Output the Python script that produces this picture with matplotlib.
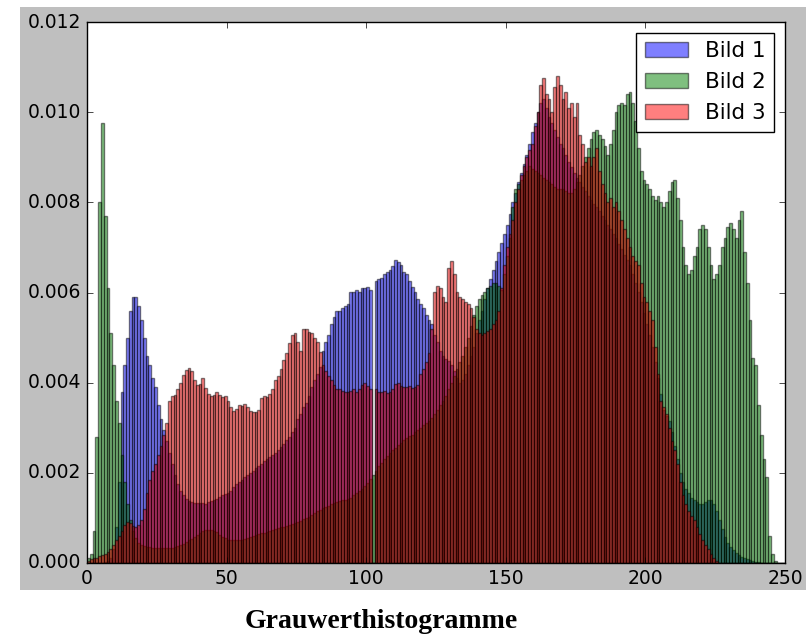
import matplotlib
matplotlib.use("Agg")
import matplotlib.pyplot as plt
import numpy as np
from matplotlib.patches import Rectangle

# grey-value histograms, one value per bin (0..255), in units of 1e-5
bild1 = [
    0, 0, 0, 0, 0, 1, 2, 5, 10, 30,
    80, 180, 380, 440, 500, 560, 590, 590, 570, 540,
    500, 460, 440, 410, 390, 350, 320, 295, 270, 245,
    220, 195, 175, 160, 150, 143, 138, 136, 134, 133,
    134, 133, 130, 135, 137, 140, 142, 146, 150, 152,
    155, 160, 168, 175, 180, 185, 190, 195, 200, 205,
    210, 215, 220, 226, 230, 235, 240, 245, 250, 258,
    265, 272, 280, 290, 300, 320, 330, 345, 355, 370,
    390, 405, 420, 435, 470, 490, 505, 530, 545, 560,
    560, 565, 570, 575, 600, 600, 605, 600, 610, 610,
    612, 605, 0, 625, 630, 632, 640, 645, 650, 658,
    672, 668, 660, 645, 640, 625, 612, 600, 585, 575,
    565, 550, 540, 530, 505, 490, 470, 460, 452, 447,
    440, 425, 410, 400, 405, 420, 440, 460, 480, 510,
    540, 560, 585, 610, 630, 650, 670, 690, 710, 730,
    750, 775, 800, 820, 845, 865, 885, 905, 930, 955,
    975, 1000, 1020, 1030, 1010, 990, 975, 960, 945, 930,
    920, 905, 890, 878, 865, 855, 845, 835, 825, 815,
    805, 797, 790, 780, 770, 760, 750, 740, 730, 720,
    708, 696, 684, 672, 660, 640, 620, 600, 580, 555,
    530, 505, 480, 445, 410, 375, 340, 325, 315, 290,
    260, 230, 200, 180, 165, 155, 145, 140, 135, 130,
    130, 135, 140, 140, 130, 115, 95, 75, 58, 45,
    35, 28, 22, 18, 14, 11, 8, 6, 4, 3,
    2, 1, 0, 0, 0, 0, 0, 0, 0, 0,
    0, 0, 0, 0, 0, 0,
]

bild2 = [
    10, 20, 70, 280, 800, 975, 770, 610, 510, 440,
    360, 310, 240, 180, 130, 95, 70, 55, 45, 40,
    38, 36, 35, 34, 33, 33, 33, 33, 33, 33,
    34, 35, 37, 40, 43, 47, 50, 54, 58, 62,
    66, 70, 73, 74, 74, 72, 68, 63, 58, 55,
    52, 50, 50, 50, 51, 52, 54, 56, 58, 60,
    62, 64, 66, 67, 69, 71, 73, 75, 77, 79,
    80, 82, 84, 86, 88, 91, 94, 97, 100, 103,
    106, 110, 115, 118, 121, 124, 127, 130, 132, 135,
    137, 139, 140, 142, 145, 150, 155, 160, 165, 170,
    178, 187, 196, 205, 215, 222, 230, 237, 243, 250,
    256, 262, 267, 272, 277, 281, 285, 290, 295, 300,
    305, 310, 315, 322, 330, 340, 350, 360, 370, 385,
    400, 415, 430, 445, 460, 480, 500, 525, 550, 570,
    585, 595, 600, 610, 615, 620, 620, 615, 605, 640,
    680, 720, 790, 830, 840, 850, 860, 870, 880, 875,
    870, 865, 860, 855, 850, 845, 840, 835, 830, 830,
    830, 825, 820, 820, 830, 845, 860, 880, 900, 920,
    940, 955, 960, 950, 940, 925, 905, 930, 960, 1000,
    1015, 1020, 1015, 1040, 1045, 1020, 980, 920, 870, 850,
    840, 830, 815, 805, 815, 800, 790, 800, 825, 845,
    850, 810, 760, 700, 660, 640, 650, 680, 700, 740,
    750, 740, 700, 660, 630, 640, 660, 700, 720, 745,
    755, 740, 720, 760, 780, 690, 620, 540, 455, 440,
    350, 285, 230, 190, 60, 20, 5, 0, 0, 0,
    0, 0, 0, 0, 0, 0,
]

bild3 = [
    5, 8, 10, 12, 15, 18, 20, 25, 30, 40,
    50, 60, 72, 85, 90, 88, 82, 80, 85, 95,
    120, 155, 185, 205, 220, 240, 260, 285, 310, 360,
    370, 372, 385, 400, 418, 428, 432, 425, 405, 395,
    398, 410, 388, 375, 370, 372, 380, 372, 368, 370,
    360, 345, 338, 342, 350, 348, 352, 345, 338, 335,
    336, 340, 365, 370, 368, 375, 385, 405, 415, 430,
    450, 465, 488, 505, 510, 490, 470, 518, 520, 512,
    510, 500, 490, 468, 440, 425, 415, 405, 395, 385,
    385, 382, 380, 380, 382, 385, 380, 385, 395, 400,
    392, 385, 0, 385, 380, 380, 382, 378, 380, 385,
    398, 400, 392, 390, 390, 392, 388, 390, 395, 420,
    430, 445, 465, 520, 600, 615, 610, 590, 580, 655,
    670, 640, 600, 590, 585, 580, 575, 565, 545, 520,
    510, 505, 510, 515, 520, 530, 540, 560, 610, 660,
    700, 730, 760, 800, 830, 860, 880, 900, 915, 930,
    970, 1000, 1060, 1075, 1040, 1030, 1000, 1055, 1080, 1060,
    1030, 1045, 1010, 1020, 990, 1020, 950, 930, 890, 900,
    880, 900, 920, 870, 840, 820, 800, 810, 790, 800,
    780, 760, 740, 720, 700, 680, 670, 660, 620, 590,
    580, 560, 540, 480, 420, 360, 345, 330, 300, 270,
    250, 220, 180, 150, 130, 115, 105, 95, 80, 65,
    50, 40, 30, 20, 10, 5, 0, 0, 0, 0,
    0, 0, 0, 0, 0, 0, 0, 0, 0, 0,
    0, 0, 0, 0, 0, 0, 0, 0, 0, 0,
    0, 0, 0, 0, 0, 0,
]

labels = ["Bild 1", "Bild 2", "Bild 3"]
colors = ["b", "g", "r"]
caption = "Grauwerthistogramme"

plt.style.use("classic")
plt.rcParams["font.family"] = ["DejaVu Sans"]
plt.rcParams["font.size"] = 13.5

fig = plt.figure(figsize=(8.06, 6.35), dpi=100, facecolor="white")
# grey canvas of the embedded plot image (drawn behind the axes)
fig.patches.append(Rectangle((20 / 806, 45 / 635), 786 / 806, 583 / 635,
                             transform=fig.transFigure, facecolor="#bfbfbf",
                             edgecolor="none", zorder=-10))

ax = fig.add_axes([87 / 806, 72 / 635, 698 / 806, 541 / 635])
ax.set_zorder(5)
edges = np.arange(257)
for vals, col, lab in zip([bild1, bild2, bild3], colors, labels):
    ax.hist(edges[:-1], bins=edges, weights=np.array(vals) * 1e-5,
            color=col, alpha=0.5, label=lab)

ax.set_xlim(0, 250)
ax.set_ylim(0, 0.012)
ax.set_yticks(np.arange(0, 0.0121, 0.002))
ax.set_yticklabels([f"{t:.3f}" for t in np.arange(0, 0.0121, 0.002)])
ax.legend(loc="upper right", fontsize=15.5)

fig.text(381 / 806, 14 / 635, caption, ha="center", va="center",
         fontsize=20, fontweight="bold", family="Liberation Serif")

fig.savefig("out.png", dpi=100, facecolor=fig.get_facecolor())
